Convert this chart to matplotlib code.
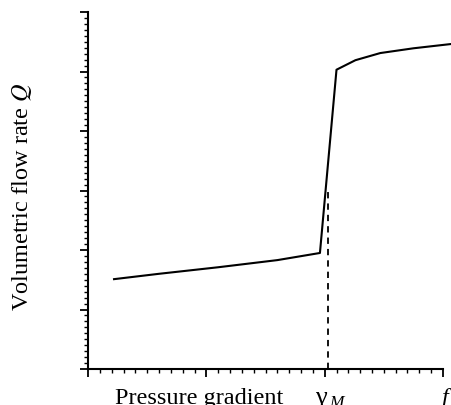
import matplotlib.pyplot as plt
from matplotlib.ticker import MultipleLocator, NullFormatter

plt.rcParams['font.family'] = ['Liberation Serif', 'DejaVu Serif']
plt.rcParams['mathtext.fontset'] = 'stix'

# curve (pressure gradient, flow rate)
grad = [0.22, 0.6, 1.1, 1.6, 1.96, 2.10, 2.26, 2.47, 2.75, 3.06]
flow = [1.51, 1.60, 1.71, 1.83, 1.95, 5.03, 5.19, 5.31, 5.39, 5.46]

# critical gradient marker
gamma_m = 2.03
gamma_flow = 3.0

fig = plt.figure(figsize=(4.51, 4.06), dpi=100)
ax = fig.add_axes([88 / 451, 36 / 406, 355 / 451, 357 / 406])

ax.plot(grad, flow, color="black", lw=1.5, clip_on=False)
ax.plot([gamma_m, gamma_m], [0, gamma_flow], color="black", lw=1.3,
        linestyle=(0, (3.5, 2.8)))

ax.set_xlim(0, 3)
ax.set_ylim(0, 6)

# only left and bottom axis lines
ax.spines["top"].set_visible(False)
ax.spines["right"].set_visible(False)
ax.spines["left"].set_linewidth(1.5)
ax.spines["bottom"].set_linewidth(1.5)

ax.xaxis.set_major_locator(MultipleLocator(1))
ax.xaxis.set_minor_locator(MultipleLocator(0.1))
ax.yaxis.set_major_locator(MultipleLocator(1))
ax.yaxis.set_minor_locator(MultipleLocator(0.1))
ax.xaxis.set_major_formatter(NullFormatter())
ax.yaxis.set_major_formatter(NullFormatter())
ax.tick_params(which="major", direction="out", length=5.5, width=1.3)
ax.tick_params(which="minor", direction="out", length=3, width=1.0)

# axis labels
fig.text(115 / 451, 2 / 406, "Pressure gradient", fontsize=17.5,
         ha="left", va="baseline")
fig.text(315 / 451, 2 / 406, "γ", fontsize=19, ha="left", va="baseline")
fig.text(329 / 451, -1 / 406, "M", fontsize=12.5, style="italic",
         ha="left", va="baseline")
fig.text(442 / 451, 2 / 406, "f", fontsize=17.5, style="italic",
         ha="left", va="baseline")
fig.text(22 / 451, 1 - 197 / 406, "Volumetric flow rate $Q$", fontsize=17.5,
         rotation=90, ha="center", va="center")

fig.savefig("out.png", dpi=100)
